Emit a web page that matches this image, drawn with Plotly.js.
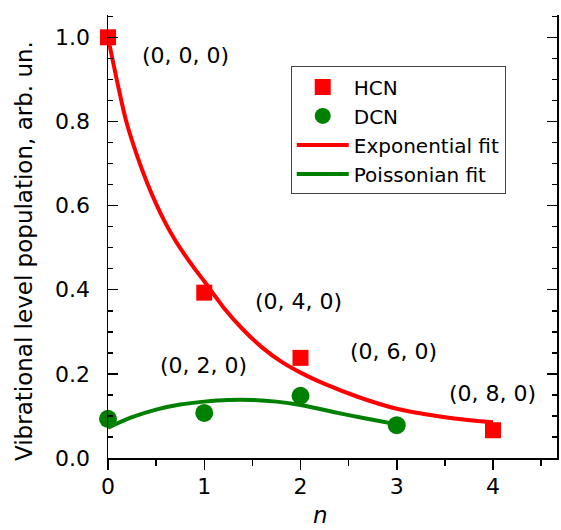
<!DOCTYPE html>
<html>
<head>
<meta charset="utf-8">
<script src="https://cdn.plot.ly/plotly-3.0.1.min.js"></script>
<style>html,body{margin:0;padding:0;background:#fff;}#chart{width:561px;height:530px;}</style>
</head>
<body>
<div id="chart"></div>
<script>
// Measured data
const hcnN = [0, 1, 2, 4];
const hcnPop = [1.0, 0.393, 0.238, 0.066];
const dcnN = [0, 1, 2, 3];
const dcnPop = [0.093, 0.107, 0.148, 0.078];

// Fit curves
const expFitN = [0, 0.1, 0.19, 0.3, 0.4, 0.5, 0.6, 0.7, 0.8, 0.9, 1.0, 1.2, 1.4, 1.6, 1.8, 2.0, 2.25, 2.6, 3.0, 3.3, 3.6, 4.0];
const expFitPop = [1.0, 0.89, 0.80, 0.72, 0.658, 0.604, 0.557, 0.517, 0.482, 0.450, 0.420, 0.358, 0.306, 0.263, 0.229, 0.203, 0.176, 0.145, 0.117, 0.104, 0.094, 0.085];
const poisFitN = [0, 0.25, 0.5, 0.75, 1.0, 1.25, 1.5, 1.75, 2.0, 2.25, 2.5, 2.75, 3.0];
const poisFitPop = [0.072, 0.097, 0.115, 0.127, 0.134, 0.138, 0.138, 0.134, 0.126, 0.114, 0.102, 0.091, 0.080];

// Labels
const levelLabels = ["(0, 0, 0)", "(0, 2, 0)", "(0, 4, 0)", "(0, 6, 0)", "(0, 8, 0)"];
const labelN = [0.808, 0.997, 1.977, 2.968, 3.995];
const labelPop = [0.957, 0.220, 0.371, 0.254, 0.153];
const yTitle = "Vibrational level population, arb. un.";
const xTitle = "<i>n</i>";

const FONT = "'DejaVu Sans', Arial, sans-serif";
const RED = "#ff0000";
const GREEN = "#008000";

// plot-area geometry in pixels (used only to place titles)
const PL = 108, PR = 557, PT = 15, PB = 458;
const pxX = px => (px - PL) / (PR - PL);
const pxY = py => (PB - py) / (PB - PT);

const traces = [
  {x: expFitN, y: expFitPop, mode: "lines", name: "Exponential fit", legendrank: 3,
   line: {color: RED, width: 4, shape: "spline"}, cliponaxis: false},
  {x: poisFitN, y: poisFitPop, mode: "lines", name: "Poissonian fit", legendrank: 4,
   line: {color: GREEN, width: 4, shape: "spline"}, cliponaxis: false},
  {x: hcnN, y: hcnPop, mode: "markers", name: "HCN", legendrank: 1,
   marker: {symbol: "square", size: 16, color: RED}, cliponaxis: false},
  {x: dcnN, y: dcnPop, mode: "markers", name: "DCN", legendrank: 2,
   marker: {symbol: "circle", size: 18, color: GREEN}, cliponaxis: false}
];

const annotations = levelLabels.map((t, i) => ({
  x: labelN[i], y: labelPop[i], xref: "x", yref: "y", text: t, showarrow: false,
  font: {family: FONT, size: 22, color: "#000"}, xanchor: "center", yanchor: "middle"
}));
annotations.push({
  x: pxX(24), y: pxY(251), xref: "paper", yref: "paper", text: yTitle,
  showarrow: false, textangle: -90, font: {family: FONT, size: 23, color: "#000"},
  xanchor: "center", yanchor: "middle"
});
annotations.push({
  x: pxX(320), y: pxY(530), xref: "paper", yref: "paper", text: xTitle, showarrow: false,
  font: {family: FONT, size: 23, color: "#000"}, xanchor: "center", yanchor: "bottom"
});

const xr = [0, 4.665];
const layout = {
  width: 561, height: 530,
  margin: {l: PL, r: 561 - PR, t: PT, b: 530 - PB},
  paper_bgcolor: "#fff", plot_bgcolor: "#fff",
  font: {family: FONT, size: 22, color: "#000"},
  showlegend: true,
  legend: {x: 0.407, y: 0.884, xanchor: "left", yanchor: "top",
    bordercolor: "#444", borderwidth: 1, bgcolor: "#fff",
    font: {family: FONT, size: 20, color: "#000"}, itemwidth: 52, tracegroupgap: 0},
  xaxis: {range: xr, showgrid: false, zeroline: false, showline: true, linecolor: "#000", linewidth: 1.5,
    ticks: "outside", ticklen: 10, tickwidth: 1.5, tickcolor: "#000", dtick: 1, tick0: 0,
    minor: {ticks: "outside", ticklen: 6, tickwidth: 1.5, tickcolor: "#000", dtick: 0.5},
    tickfont: {family: FONT, size: 22}, mirror: false, ticklabelstandoff: -2},
  xaxis2: {range: xr, overlaying: "x", side: "top", showgrid: false, zeroline: false, showline: true,
    linecolor: "#000", linewidth: 1.5, ticks: "inside", ticklen: 10, tickwidth: 1.5, tickcolor: "#000",
    dtick: 1, tick0: 0, showticklabels: false,
    minor: {ticks: "inside", ticklen: 6, tickwidth: 1.5, tickcolor: "#000", dtick: 0.5}},
  yaxis: {range: [0, 1.053], showgrid: false, zeroline: false, showline: true, linecolor: "#000", linewidth: 1.5,
    ticks: "inside", ticklen: 10, tickwidth: 1.5, tickcolor: "#000", dtick: 0.2, tick0: 0, tickformat: ".1f",
    minor: {ticks: "inside", ticklen: 5, tickwidth: 1.5, tickcolor: "#000", dtick: 0.05},
    tickfont: {family: FONT, size: 22}, mirror: "ticks", ticklabelstandoff: 12},
  annotations: annotations
};

Plotly.newPlot("chart", traces, layout, {staticPlot: true, displayModeBar: false});
</script>
</body>
</html>
